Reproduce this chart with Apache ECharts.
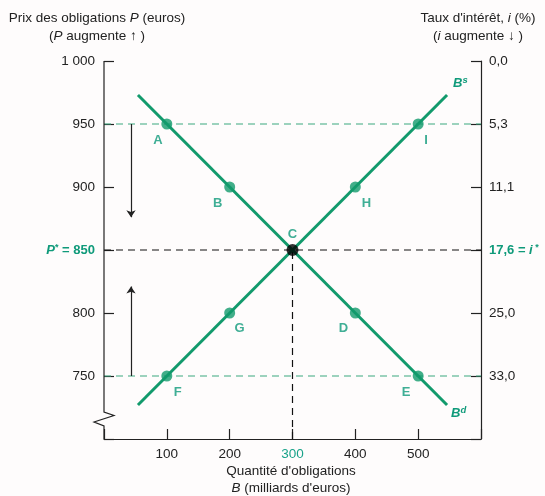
<!DOCTYPE html>
<html><head><meta charset="utf-8">
<script src="https://cdn.jsdelivr.net/npm/echarts@6/dist/echarts.min.js"></script>
<style>html,body{margin:0;padding:0;background:#fefcfc}#c{width:545px;height:496px}</style>
</head><body><div id="c"></div>
<script>
const quantities = [100, 200, 300, 400, 500];
const demandPrices = [950, 900, 850, 800, 750];
const demandNames = ['A', 'B', 'C', 'D', 'E'];
const supplyPrices = [750, 800, 850, 900, 950];
const supplyNames = ['F', 'G', 'C', 'H', 'I'];
const demandLine = [[54, 973], [546, 727]];
const supplyLine = [[54, 727], [546, 973]];
const priceTicks = [1000, 950, 900, 850, 800, 750];
const priceLabels = ['1 000', '950', '900', '850', '800', '750'];
const rateLabels = ['0,0', '5,3', '11,1', '17,6', '25,0', '33,0'];
const eqQ = 300, eqP = 850;
const arrowDown = [[43, 950], [43, 876]];
const arrowUp = [[43, 750], [43, 821]];

const GREEN = '#129a6c';
const GTEXT = '#0f9a7a';
const DARK = '#222';
const FONT = '"Liberation Sans", Arial, sans-serif';
const FS = 13.5;

const chart = echarts.init(document.getElementById('c'), null, {renderer: 'canvas'});

function pts(prices, names) {
  return quantities.map((q, i) => ({value: [q, prices[i]], name: names[i]}));
}
const demandOffsets = {A: [-9, 1], B: [-12, 1], D: [-12, 0], E: [-12, 1]};
const supplyOffsets = {F: [11, 1], G: [10, 0], H: [11, 1], I: [8, 1]};

function pointSeries(prices, names, offs) {
  return {
    type: 'scatter', symbolSize: 11, z: 5,
    itemStyle: {color: GREEN},
    data: pts(prices, names).filter(d => d.name !== 'C').map(d => ({
      value: d.value, name: d.name,
      label: {show: true, formatter: d.name, position: 'bottom', offset: offs[d.name], distance: 3,
        color: GTEXT, fontWeight: 'bold', fontSize: 13, fontFamily: FONT}
    }))
  };
}

const option = {
  backgroundColor: '#fefcfc',
  animation: false,
  grid: {left: 104, right: 64, top: 61, bottom: 57},
  xAxis: {
    type: 'value', min: 0, max: 600, interval: 100,
    axisLine: {lineStyle: {color: DARK, width: 1.2}},
    axisTick: {inside: true, length: 10, lineStyle: {color: DARK, width: 1.2}},
    splitLine: {show: false},
    axisLabel: {
      fontFamily: FONT, fontSize: FS, color: DARK, margin: 8,
      formatter: v => (v > 0 && v < 600) ? (v === eqQ ? '{g|' + v + '}' : String(v)) : '',
      rich: {g: {color: '#1aa38a', fontFamily: FONT, fontSize: FS}}
    }
  },
  yAxis: [{
    type: 'value', min: 700, max: 1000, interval: 50, position: 'left',
    axisLine: {show: false},
    axisTick: {inside: true, length: 10, lineStyle: {color: DARK, width: 1.2}},
    splitLine: {show: false},
    axisLabel: {
      fontFamily: FONT, fontSize: FS, color: DARK, margin: 9,
      formatter: v => {
        const i = priceTicks.indexOf(v);
        if (i < 0) return '';
        if (v === eqP) return '{pi|P}{ps|*}{g| = ' + priceLabels[i] + '}';
        return priceLabels[i];
      },
      rich: {
        pi: {color: GTEXT, fontWeight: 'bold', fontStyle: 'italic', fontFamily: FONT, fontSize: 13},
        ps: {color: GTEXT, fontWeight: 'bold', fontFamily: FONT, fontSize: 9, verticalAlign: 'top'},
        g: {color: GTEXT, fontWeight: 'bold', fontFamily: FONT, fontSize: 13}
      }
    }
  }, {
    type: 'value', min: 700, max: 1000, interval: 50, position: 'right',
    axisLine: {show: true, lineStyle: {color: DARK, width: 1.2}},
    axisTick: {inside: true, length: 10, lineStyle: {color: DARK, width: 1.2}},
    splitLine: {show: false},
    axisLabel: {
      fontFamily: FONT, fontSize: FS, color: DARK, margin: 8,
      formatter: v => {
        const i = priceTicks.indexOf(v);
        if (i < 0) return '';
        if (v === eqP) return '{g|' + rateLabels[i] + ' = }{gi|i}{gs| *}';
        return rateLabels[i];
      },
      rich: {
        g: {color: GTEXT, fontWeight: 'bold', fontFamily: FONT, fontSize: 13},
        gi: {color: GTEXT, fontWeight: 'bold', fontStyle: 'italic', fontFamily: FONT, fontSize: 13},
        gs: {color: GTEXT, fontWeight: 'bold', fontFamily: FONT, fontSize: 9, verticalAlign: 'top'}
      }
    }
  }],
  series: [
    {type: 'line', symbol: 'none', silent: true, z: 1, data: [[0, demandPrices[0]], [600, demandPrices[0]]],
      lineStyle: {color: '#3aa77e', width: 1.2, type: [7, 5]}},
    {type: 'line', symbol: 'none', silent: true, z: 1, data: [[0, demandPrices[4]], [600, demandPrices[4]]],
      lineStyle: {color: '#3aa77e', width: 1.2, type: [7, 5]}},
    {type: 'line', symbol: 'none', silent: true, z: 1, data: [[0, eqP], [600, eqP]],
      lineStyle: {color: '#111', width: 1.2, type: [7, 5]}},
    {type: 'line', symbol: 'none', silent: true, z: 1, data: [[eqQ, 700], [eqQ, eqP]],
      lineStyle: {color: '#111', width: 1.2, type: [7, 5]}},
    {type: 'line', symbol: 'none', z: 3, data: demandLine,
      lineStyle: {color: GREEN, width: 3},
      endLabel: {show: true, formatter: '{b|B}{s|d}', offset: [-4, 8],
        rich: {b: {color: GTEXT, fontStyle: 'italic', fontWeight: 'bold', fontSize: 13, fontFamily: FONT},
               s: {color: GTEXT, fontStyle: 'italic', fontWeight: 'bold', fontSize: 9.5, fontFamily: FONT, verticalAlign: 'top', padding: [0, 0, 6, 0]}}}},
    {type: 'line', symbol: 'none', z: 3, data: supplyLine,
      lineStyle: {color: GREEN, width: 3},
      endLabel: {show: true, formatter: '{b|B}{s|s}', offset: [-2, -12],
        rich: {b: {color: GTEXT, fontStyle: 'italic', fontWeight: 'bold', fontSize: 13, fontFamily: FONT},
               s: {color: GTEXT, fontStyle: 'italic', fontWeight: 'bold', fontSize: 9.5, fontFamily: FONT, verticalAlign: 'top', padding: [0, 0, 6, 0]}}}},
    pointSeries(demandPrices, demandNames, demandOffsets),
    pointSeries(supplyPrices, supplyNames, supplyOffsets),
    {type: 'scatter', symbolSize: 12, z: 6, itemStyle: {color: '#000'},
      data: [{value: [eqQ, eqP], name: 'C'}],
      label: {show: true, formatter: 'C', position: 'top', distance: 3, color: GTEXT, fontWeight: 'bold', fontSize: 13, fontFamily: FONT}},
    {type: 'lines', coordinateSystem: 'cartesian2d', z: 4, symbol: ['none', 'arrow'], symbolSize: 7,
      lineStyle: {color: '#222', width: 1.2, opacity: 1},
      data: [{coords: arrowDown}, {coords: arrowUp}]}
  ]
};
chart.setOption(option);

const pTop = chart.convertToPixel({gridIndex: 0}, [0, 1000]);
const pBot = chart.convertToPixel({gridIndex: 0}, [0, 700]);
const x0 = pTop[0];
const nrm = {fontFamily: FONT, fontSize: FS, fill: DARK};
const itl = {fontFamily: FONT, fontSize: FS, fill: DARK, fontStyle: 'italic'};
chart.setOption({
  graphic: [
    {type: 'polyline', z: 10, shape: {points: [
      [x0, pTop[1]], [x0, pBot[1] - 27], [x0 + 10, pBot[1] - 23.5], [x0 - 10, pBot[1] - 17], [x0, pBot[1] - 13], [x0, pBot[1]]
    ]}, style: {stroke: DARK, lineWidth: 1.2, fill: null}},
    {type: 'text', x: 97, y: 18, style: {text: '{n|Prix des obligations }{i|P}{n| (euros)}', align: 'center', verticalAlign: 'middle', rich: {n: nrm, i: itl}}},
    {type: 'text', x: 97, y: 36, style: {text: '{n|(}{i|P}{n| augmente ↑ )}', align: 'center', verticalAlign: 'middle', rich: {n: nrm, i: itl}}},
    {type: 'text', x: 478, y: 18, style: {text: "{n|Taux d'intérêt, }{i|i}{n| (%)}", align: 'center', verticalAlign: 'middle', rich: {n: nrm, i: itl}}},
    {type: 'text', x: 478, y: 36, style: {text: '{n|(}{i|i}{n| augmente ↓ )}', align: 'center', verticalAlign: 'middle', rich: {n: nrm, i: itl}}},
    {type: 'text', x: 291, y: 471, style: {text: "Quantité d'obligations", align: 'center', verticalAlign: 'middle', fontFamily: FONT, fontSize: FS, fill: DARK}},
    {type: 'text', x: 291, y: 488, style: {text: "{i|B}{n| (milliards d'euros)}", align: 'center', verticalAlign: 'middle', rich: {n: nrm, i: itl}}}
  ]
});
</script>
</body></html>
